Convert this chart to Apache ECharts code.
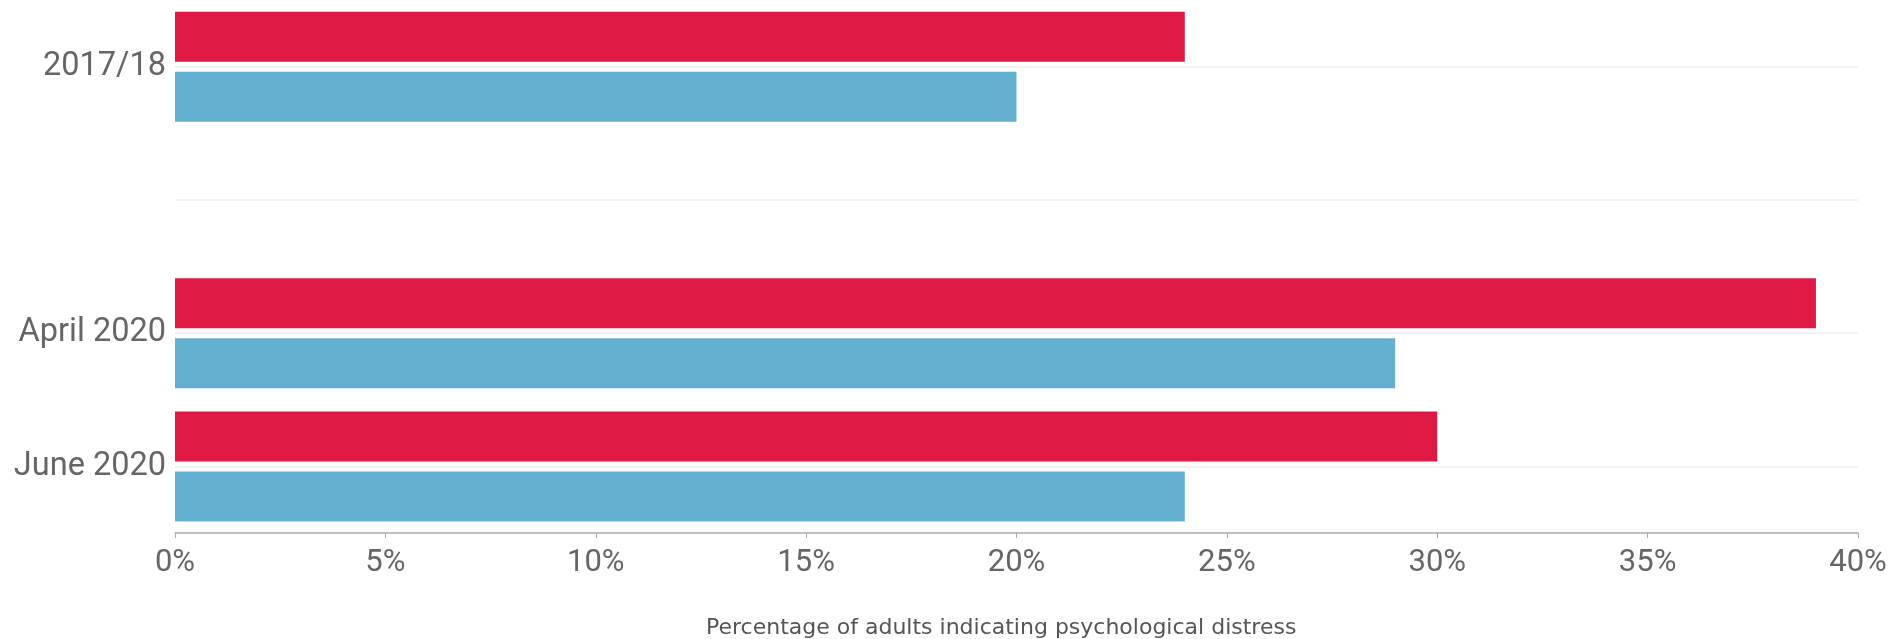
<!DOCTYPE html>
<html>
<head>
<meta charset="utf-8">
<script src="https://cdn.jsdelivr.net/npm/echarts@6/dist/echarts.min.js"></script>
<style>html,body{margin:0;padding:0;background:#fff}#c{width:1897px;height:639px}</style>
</head>
<body>
<div id="c"></div>
<script>
const categories = ['2017/18', '', 'April 2020', 'June 2020'];
const redValues = [24, null, 39, 30];
const blueValues = [20, null, 29, 24];
const xTicks = [0, 5, 10, 15, 20, 25, 30, 35, 40];
const axisTitle = 'Percentage of adults indicating psychological distress';

const chart = echarts.init(document.getElementById('c'));
chart.setOption({
  animation: false,
  title: {
    text: axisTitle,
    left: 706,
    top: 617,
    padding: 0,
    textStyle: { fontFamily: 'DejaVu Sans', fontSize: 22, fontWeight: 'normal', color: '#555' }
  },
  grid: { left: 175, right: 39, top: 0, bottom: 106, containLabel: false },
  xAxis: {
    type: 'value',
    min: xTicks[0],
    max: xTicks[xTicks.length - 1],
    interval: 5,
    axisLine: { show: true, lineStyle: { color: '#aaa', width: 1.5 } },
    axisTick: { show: true, length: 5, lineStyle: { color: '#aaa' } },
    splitLine: { show: false },
    axisLabel: {
      formatter: v => v + '%',
      fontFamily: 'Roboto', fontSize: 31, color: '#666', margin: 15
    }
  },
  yAxis: {
    type: 'category',
    data: categories,
    inverse: true,
    axisLine: { show: false },
    axisTick: { show: false, alignWithLabel: true },
    splitLine: { show: true, alignWithLabel: true, lineStyle: { color: '#eeeeee', width: 1.5 } },
    axisLabel: { fontFamily: 'Roboto', fontSize: 32.5, color: '#666', margin: 9 }
  },
  series: [
    {
      type: 'bar', data: redValues, barWidth: 50, barGap: '20%',
      itemStyle: { color: '#DE1A44' }
    },
    {
      type: 'bar', data: blueValues, barWidth: 50, barGap: '20%',
      itemStyle: { color: '#64B0D1' }
    }
  ]
});
</script>
</body>
</html>
